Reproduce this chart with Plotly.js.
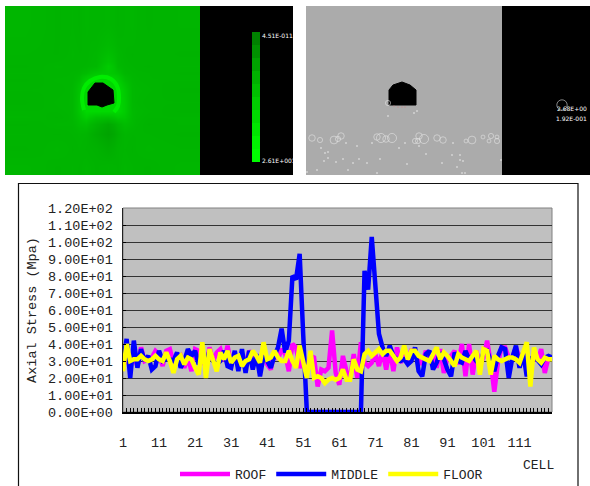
<!DOCTYPE html>
<html><head><meta charset="utf-8">
<script src="https://cdn.plot.ly/plotly-3.0.1.min.js"></script>
<style>html,body{margin:0;padding:0;background:#fff;overflow:hidden;width:590px;height:486px}#c{width:590px}</style></head>
<body><div id="c"></div>
<script>
const roof=[28,30,31,33,27,38,30,31,32,36,34,27,36,37,29,31,33,26,32,24,37,36,30,27,38,30,35,37,30,39,
28,33,30,34,28,36,33,32,30,36,28,25,36,31,37,34,24,40,38,26,31,26,33,32,15,25,24,26,48,23,
16,33,24,20,34,20,41,29,27,29,34,27,36,25,37,24,38,29,33,30,37,33,30,28,36,32,35,26,37,23,
32,33,36,28,40,21,40,22,36,28,32,42,29,12,29,38,38,32,32,38,32,31,35,28,34,30,37,23,32,32];
const middle=[28,43,20,42,26,37,30,33,25,27,36,30,31,31,30,35,26,30,37,33,36,28,33,29,36,30,28,30,36,27,
26,36,24,37,23,36,25,34,21,33,30,26,33,38,49,35,42,80,78,93,45,0,0,0,0,0,0,0,0,0,
0,0,0,0,0,0,0,83,72,103,70,46,38,33,39,33,31,30,31,28,30,38,24,21,34,36,25,29,35,31,
25,21,35,30,29,36,31,33,30,28,35,36,30,24,33,38,37,20,32,39,26,35,21,31,33,30,28,32,33,32];
const floor=[24,40,30,31,31,33,31,30,31,33,31,30,35,30,23,31,33,28,32,31,26,22,41,20,37,30,24,35,31,36,
29,32,33,27,30,31,36,33,29,41,31,32,36,32,30,30,36,30,26,39,28,20,36,20,21,20,17,19,20,19,
20,25,19,19,31,25,24,34,36,33,35,37,34,36,36,33,30,32,39,31,36,36,33,32,31,30,34,38,31,35,
33,30,27,34,32,31,30,33,36,22,37,36,22,33,31,30,31,32,32,31,29,36,41,15,38,31,29,32,31,31];
const cells=roof.map((_,i)=>i+1);
const cellLabels=cells.map(c=>(c-1)%10===0&&c<120?String(c):'');
const stressTicks=[0,10,20,30,40,50,60,70,80,90,100,110,120];
const stressLabels=['0.00E+00','1.00E+01','2.00E+01','3.00E+01','4.00E+01','5.00E+01','6.00E+01','7.00E+01','8.00E+01','9.00E+01','1.00E+02','1.10E+02','1.20E+02'];

// top panels, read in picture pixels
const fieldX=[5,45,68,76,82,90,102,114,121,128,136,160,200];
const fieldY=[6,45,62,70,76,84,96,108,114,120,128,140,158,175];
const fieldZ=[
[.43,.41,.42,.41,.43,.42,.43,.41,.42,.43,.41,.42],
[.42,.41,.43,.42,.42,.44,.50,.44,.42,.41,.42,.41],
[.41,.43,.42,.42,.43,.45,.60,.45,.43,.42,.41,.42],
[.42,.42,.43,.44,.48,.56,.58,.52,.44,.43,.42,.41],
[.41,.43,.43,.48,.62,.7,.7,.62,.50,.44,.42,.42],
[.42,.42,.44,.54,.7,.7,.7,.7,.58,.45,.43,.41],
[.41,.43,.44,.56,.7,.7,.7,.7,.60,.45,.42,.42],
[.42,.42,.44,.56,.7,.7,.7,.7,.60,.46,.43,.41],
[.43,.41,.44,.52,.62,.52,.5,.58,.56,.46,.42,.42],
[.41,.43,.43,.48,.50,.40,.34,.42,.48,.45,.41,.42],
[.42,.41,.42,.43,.42,.36,.31,.38,.43,.42,.42,.41],
[.41,.43,.41,.42,.41,.40,.37,.41,.42,.41,.43,.42],
[.43,.41,.42,.41,.43,.41,.42,.41,.43,.42,.41,.43]];
const glowX=[84,82,84,90,100,111,117,119,118,114];
const glowY=[110,98,88,81,77,79,86,96,106,112];
const barX=[252,260];
const barSteps=[32,45,58,71,84,97,110,123,136,149,162];
const barLevels=[[.1],[.2],[.3],[.4],[.5],[.6],[.7],[.8],[.9],[.98]];
const greenHoleX=[88,88,95,103,113,114,107,102,97];
const greenHoleY=[105,92,83,83,90,103,105,107,105];
const grayHoleX=[389,389,393,402,410,416,416];
const grayHoleY=[105,90,85,82,85,90,105];
const ringX=[312,320,334,338,341,377,381,386,392,388,415,418,419,424,437,443,466,472,483,491,489,497,497,562];
const ringY=[138,140,140,139,136,137,138,139,138,103,141,141,136,139,138,140,141,140,137,136,141,137,141,105];
const ringSize=[5,4,6,4,5,5,7,5,7,4,4,4,5,7,5,5,3,6,3,4,3,3,4,8];
const dotX=[321,325,328,336,343,328,346,357,353,359,367,380,372,399,405,419,426,407,388,414,417,442,452,460,460,463,457,453,501,462,465,377,348,317,307,324];
const dotY=[148,153,152,162,159,158,143,146,163,159,163,159,143,148,143,146,154,164,116,113,111,163,155,155,160,161,167,143,160,173,173,173,170,170,172,161];
const redX=[394,398,402,405], redY=[106,107,107,107];

const H=489;
const scale=[[0,'#007000'],[.4,'#00b200'],[1,'#00ff00']];
const field={type:'heatmap',x:fieldX,y:fieldY,z:fieldZ,xaxis:'x2',yaxis:'y2',zmin:0,zmax:1,zsmooth:'best',showscale:false,hoverinfo:'skip',colorscale:scale};
const bar={type:'heatmap',x:barX,y:barSteps,z:barLevels,xaxis:'x2',yaxis:'y2',zmin:0,zmax:1,zsmooth:false,showscale:false,hoverinfo:'skip',colorscale:scale};
const glow={type:'scatter',mode:'lines',x:glowX,y:glowY,line:{color:'#00f000',width:4,shape:'spline'},opacity:.9,xaxis:'x2',yaxis:'y2',showlegend:false,hoverinfo:'skip'};
const poly=(x,y)=>({type:'scatter',mode:'lines',x:x.concat(x[0]),y:y.concat(y[0]),fill:'toself',fillcolor:'#000',line:{color:'#000',width:1},xaxis:'x2',yaxis:'y2',showlegend:false,hoverinfo:'skip'});
const rings={type:'scatter',mode:'markers',x:ringX,y:ringY,marker:{symbol:'circle-open',size:ringSize.map(s=>s*1.3),color:'#e8e8e8',line:{width:.8}},xaxis:'x2',yaxis:'y2',showlegend:false,hoverinfo:'skip'};
const dots={type:'scatter',mode:'markers',x:dotX,y:dotY,marker:{size:1.6,color:'#eeeeee'},xaxis:'x2',yaxis:'y2',showlegend:false,hoverinfo:'skip'};
const reds={type:'scatter',mode:'markers',x:redX,y:redY,marker:{size:1.2,color:'#d08080'},xaxis:'x2',yaxis:'y2',showlegend:false,hoverinfo:'skip'};

const F='"Liberation Mono",monospace';
const series=(name,y,color)=>({type:'scatter',mode:'lines',name,x:cells,y,line:{color,width:4.5}});
const rect=(x0,x1,color)=>({type:'rect',xref:'x2',yref:'y2',x0,x1,y0:6,y1:175,fillcolor:color,line:{width:0},layer:'below'});
const label=(x,y,text,anchor)=>({xref:'x2',yref:'y2',x,y,text,showarrow:false,xanchor:anchor,yanchor:'middle',font:{family:'"DejaVu Sans",sans-serif',size:6,color:'#fff'}});

Plotly.newPlot('c',[field,bar,glow,poly(greenHoleX,greenHoleY),poly(grayHoleX,grayHoleY),rings,dots,reds,
 series('ROOF',roof,'#ff00ff'),series('MIDDLE',middle,'#0000ff'),series('FLOOR',floor,'#ffff00')],{
 width:590,height:H,margin:{l:0,r:0,t:0,b:0},paper_bgcolor:'#fff',plot_bgcolor:'#fff',
 font:{family:F,size:13.5,color:'#222'},
 xaxis:{domain:[123/590,552/590],anchor:'y',range:[1,120],tickmode:'array',tickvals:cells,ticktext:cellLabels,tickangle:0,ticks:'inside',ticklen:4,tickwidth:1,tickcolor:'#000',
  showgrid:false,zeroline:false,showline:true,linecolor:'#000',linewidth:1.5,ticklabelstandoff:17,fixedrange:true},
 yaxis:{domain:[1-412/H,1-208/H],anchor:'x',range:[0,120],tickmode:'array',tickvals:stressTicks,ticktext:stressLabels,ticks:'inside',ticklen:3,tickcolor:'#000',
  showgrid:true,gridcolor:'#333',gridwidth:1,zeroline:false,showline:true,linecolor:'#222',linewidth:1.5,ticklabelstandoff:6,fixedrange:true,
  title:{text:'Axial Stress (Mpa)',font:{family:F,size:13.5,color:'#222'},standoff:8}},
 xaxis2:{domain:[0,1],anchor:'y2',range:[0,590],visible:false,fixedrange:true},
 yaxis2:{domain:[1-175/H,1-6/H],anchor:'x2',range:[175,6],visible:false,fixedrange:true},
 shapes:[
  {type:'rect',xref:'x domain',yref:'y domain',x0:0,x1:1,y0:0,y1:1,fillcolor:'#c0c0c0',line:{color:'#808080',width:1},layer:'below'},
  {type:'rect',xref:'paper',yref:'paper',x0:18.5/590,x1:578/590,y0:-0.02,y1:1-183.5/H,fillcolor:'rgba(0,0,0,0)',line:{color:'#111',width:1.2},layer:'below'},
  rect(200,293,'#000'),rect(502,590,'#000'),rect(306,502,'#ababab')],
 annotations:[label(260,35,'4.51E-011','left'),label(260,160,'2.61E+001','left'),label(589,108,'2.68E+00','right'),label(589,118,'1.92E-001','right'),
  {xref:'paper',yref:'paper',x:556/590,y:1-465/H,text:'CELL',showarrow:false,xanchor:'right',yanchor:'middle',font:{family:F,size:13,color:'#222'}}],
 showlegend:true,
 legend:{orientation:'h',x:175/590,xanchor:'left',y:0,yanchor:'bottom',itemwidth:50,bgcolor:'rgba(0,0,0,0)',font:{family:F,size:13,color:'#222'},traceorder:'normal'}
},{displayModeBar:false,staticPlot:true});
</script></body></html>
